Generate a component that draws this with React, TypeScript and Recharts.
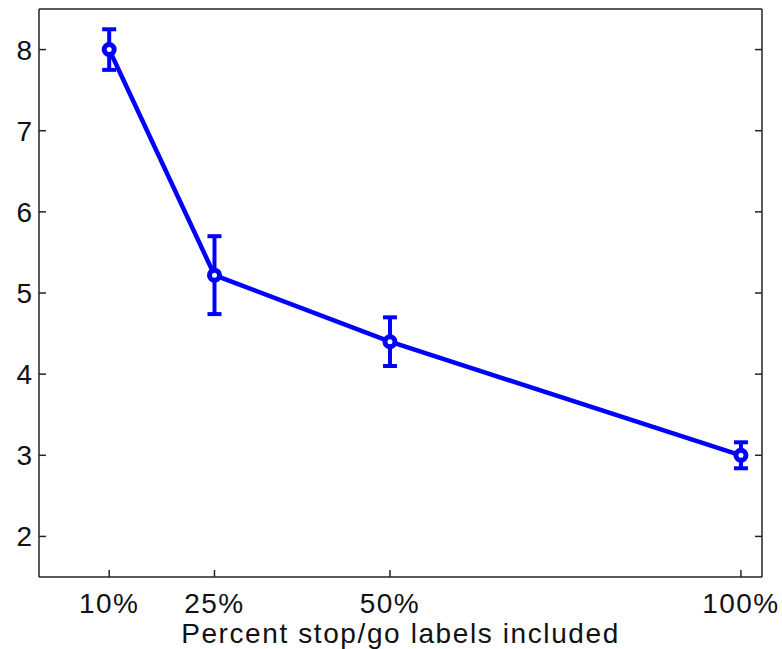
import { ComposedChart, Line, XAxis, YAxis, ErrorBar } from "recharts";

// percent of stop/go labels included, mean value and error half-width
const percents = [10, 25, 50, 100];
const means = [8.0, 5.22, 4.4, 3.0];
const errors = [0.25, 0.48, 0.3, 0.16];

const xTicks = [10, 25, 50, 100];
const yTicks = [2, 3, 4, 5, 6, 7, 8];

const BLUE = "#0000ff";
const FONT = "'Liberation Sans', Arial, Helvetica, sans-serif";

const data = percents.map((p, i) => ({ pct: p, value: means[i], err: errors[i] }));

const noTick = () => <g />;

export default function App() {
  return (
    <div style={{ position: "absolute", left: 0, top: 0, width: 782, height: 649, background: "#fff" }}>
      <ComposedChart
        width={782}
        height={649}
        data={data}
        margin={{ top: 8, right: 19, left: 0, bottom: 0 }}
      >
        <XAxis
          dataKey="pct"
          type="number"
          domain={[0, 103]}
          ticks={xTicks}
          allowDataOverflow
          height={72}
          tickSize={-7}
          tickMargin={23}
          tickFormatter={(v: number) => `${v}%`}
          tick={{ fill: "#111", fontSize: 28, fontFamily: FONT, letterSpacing: 1.5 }}
          axisLine={{ stroke: "#222", strokeWidth: 1.5 }}
          tickLine={{ stroke: "#222", strokeWidth: 1.5 }}
          label={{
            value: "Percent stop/go labels included",
            position: "insideBottom",
            offset: 6,
            fill: "#111",
            fontSize: 28,
            fontFamily: FONT,
            letterSpacing: 1.6,
          }}
        />
        <XAxis
          xAxisId="top"
          orientation="top"
          type="number"
          domain={[0, 103]}
          ticks={xTicks}
          allowDataOverflow
          height={1}
          tickSize={-7}
          tick={noTick}
          axisLine={{ stroke: "#222", strokeWidth: 1.5 }}
          tickLine={{ stroke: "#222", strokeWidth: 1.5 }}
        />
        <YAxis
          type="number"
          domain={[1.5, 8.5]}
          ticks={yTicks}
          allowDataOverflow
          width={39}
          tickSize={-7}
          tickMargin={14}
          tick={{ fill: "#111", fontSize: 28, fontFamily: FONT }}
          axisLine={{ stroke: "#222", strokeWidth: 1.5 }}
          tickLine={{ stroke: "#222", strokeWidth: 1.5 }}
        />
        <YAxis
          yAxisId="right"
          orientation="right"
          type="number"
          domain={[1.5, 8.5]}
          ticks={yTicks}
          allowDataOverflow
          width={1}
          tickSize={-7}
          tick={noTick}
          axisLine={{ stroke: "#222", strokeWidth: 1.5 }}
          tickLine={{ stroke: "#222", strokeWidth: 1.5 }}
        />
        <Line
          type="linear"
          dataKey="value"
          stroke={BLUE}
          strokeWidth={4.5}
          dot={{ r: 5, stroke: BLUE, strokeWidth: 5, fill: "#fff" }}
          activeDot={false}
          isAnimationActive={false}
        >
          <ErrorBar dataKey="err" direction="y" width={7} stroke={BLUE} strokeWidth={4} isAnimationActive={false} />
        </Line>
      </ComposedChart>
    </div>
  );
}
